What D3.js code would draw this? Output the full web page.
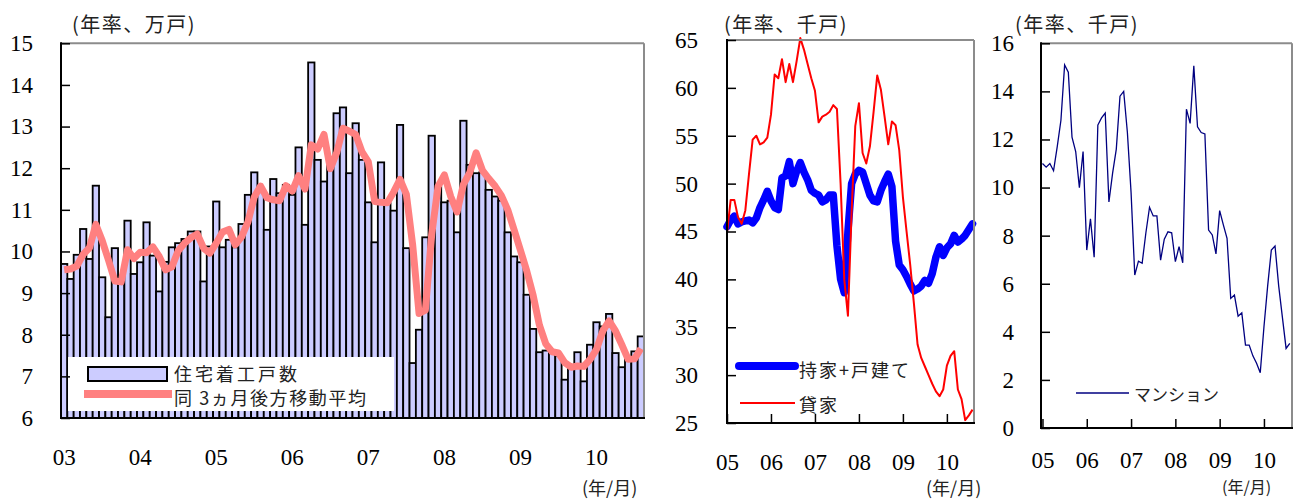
<!DOCTYPE html>
<html>
<head>
<meta charset="utf-8">
<script src="https://cdn.jsdelivr.net/npm/d3@7"></script>
<style>
  body { margin: 0; background: #fff; }
  svg { display: block; }
</style>
</head>
<body>
<svg id="chart" width="1295" height="499"></svg>
<script>
// ---- Housing starts, monthly 2003/01–2010/08 (annualised, 10k units) ----
const startsMonths = d3.utcMonth.range(new Date(Date.UTC(2003, 0, 1)), new Date(Date.UTC(2010, 8, 1)));
const housingStarts = [
  9.70, 9.34, 9.92, 10.54, 9.82, 11.58, 9.38, 8.42, 10.08, 9.30, 10.74, 9.46,
  9.74, 10.70, 9.90, 9.04, 9.75, 10.10, 10.20, 10.30, 10.48, 10.48, 9.28, 10.12,
  11.20, 10.10, 10.28, 10.10, 10.66, 11.36, 11.90, 11.45, 10.52, 11.74, 11.40, 11.60,
  11.36, 12.50, 10.64, 14.54, 12.20, 11.68, 12.10, 13.32, 13.46, 11.88, 13.08, 12.20,
  11.18, 10.22, 12.14, 11.16, 10.98, 13.04, 10.08, 7.32, 8.12, 10.34, 12.78, 11.56,
  11.18, 11.22, 10.46, 13.14, 12.08, 11.88, 11.90, 11.48, 11.32, 11.22, 10.46, 9.88,
  9.74, 8.96, 8.14, 7.58, 7.62, 7.56, 7.50, 6.92, 7.25, 7.58, 6.88, 7.76,
  8.30, 8.20, 8.50, 7.56, 7.22, 7.45, 7.60, 7.96
];
// trailing 3-month moving average
const startsMA3 = [
  9.56, 9.58, 9.65, 9.93, 10.09, 10.65, 10.26, 9.79, 9.29, 9.27, 10.04, 9.83,
  9.98, 9.97, 10.11, 9.88, 9.56, 9.63, 10.02, 10.20, 10.33, 10.42, 10.08, 9.96,
  10.20, 10.47, 10.53, 10.16, 10.35, 10.71, 11.31, 11.57, 11.29, 11.24, 11.22, 11.58,
  11.45, 11.82, 11.50, 12.56, 12.46, 12.81, 11.99, 12.37, 12.96, 12.89, 12.81, 12.39,
  12.15, 11.20, 11.18, 11.17, 11.43, 11.73, 11.37, 10.15, 8.51, 8.59, 10.41, 11.56,
  11.84, 11.32, 10.95, 11.61, 11.89, 12.37, 11.95, 11.75, 11.57, 11.34, 11.00, 10.52,
  10.03, 9.53, 8.95, 8.23, 7.78, 7.59, 7.56, 7.33, 7.22, 7.25, 7.24, 7.41,
  7.65, 8.09, 8.33, 8.09, 7.76, 7.41, 7.42, 7.67
];
const startsYearLabels = ["03", "04", "05", "06", "07", "08", "09", "10"];
const startsTicks = [6, 7, 8, 9, 10, 11, 12, 13, 14, 15];

// ---- Starts by type, monthly 2005/01–2010/08 (annualised, 1k units) ----
const typeMonths = d3.utcMonth.range(new Date(Date.UTC(2005, 0, 1)), new Date(Date.UTC(2010, 8, 1)));
const ownerDetached = [
  45.5, 46.2, 46.6, 45.8, 46.0, 46.1, 46.2, 45.9, 46.4, 47.5, 48.3, 49.2,
  48.2, 47.5, 47.3, 50.6, 50.8, 52.3, 50.0, 51.3, 52.2, 51.2, 50.4, 49.3,
  49.0, 48.8, 48.1, 48.3, 48.8, 48.8, 43.5, 40.0, 38.6, 45.0, 50.0, 51.0,
  51.4, 51.2, 50.0, 48.8, 48.2, 48.1, 49.3, 50.2, 51.0, 49.7, 44.0, 41.5,
  41.0, 40.3, 39.5, 38.8, 39.0, 39.3, 39.9, 39.6, 40.6, 42.3, 43.4, 42.5,
  43.3, 43.7, 44.6, 43.9, 44.2, 44.6, 45.2, 45.8
];
const rental = [
  44.8, 48.3, 48.3, 46.5, 45.8, 47.2, 51.0, 54.6, 55.0, 54.1, 54.3, 54.8,
  57.2, 61.4, 61.0, 63.0, 60.6, 62.5, 60.6, 62.8, 65.2, 64.0, 62.5, 61.0,
  59.7, 56.4, 57.0, 57.2, 57.5, 58.2, 57.8, 50.0, 40.0, 36.2, 47.0, 56.0,
  58.4, 53.2, 52.1, 53.9, 57.5, 61.3, 59.8, 57.0, 54.1, 56.5, 56.1, 53.5,
  48.6, 45.0, 41.5, 37.5, 33.2, 31.8, 30.9, 30.0, 29.1, 28.3, 27.8, 28.5,
  31.0, 32.0, 32.5, 28.5, 27.5, 25.3, 25.8, 26.4
];
const condo = [
  11.0, 10.85, 11.0, 10.7, 11.7, 12.8, 15.1, 14.8, 12.1, 11.5, 10.0, 11.5,
  7.4, 8.7, 7.1, 12.6, 12.9, 13.1, 9.4, 10.6, 11.6, 13.8, 14.0, 12.3,
  9.8, 6.36, 6.94, 6.85, 8.1, 9.18, 8.82, 8.82, 6.98, 7.85, 8.16, 8.12,
  6.92, 7.54, 6.87, 13.26, 12.67, 15.06, 12.53, 12.29, 12.23, 8.23, 8.03, 7.24,
  9.04, 8.45, 7.89, 5.39, 5.53, 4.65, 4.79, 3.45, 3.45, 3.0, 2.69, 2.30,
  4.2, 5.9, 7.4, 7.57, 5.9, 4.6, 3.31, 3.52
];
const typeYearLabels = ["05", "06", "07", "08", "09", "10"];
const ownerTicks = [25, 30, 35, 40, 45, 50, 55, 60, 65];
const condoTicks = [0, 2, 4, 6, 8, 10, 12, 14, 16];

const svg = d3.select("#chart");
const GRAY = "#8c8c8c";
const SERIF = '"Liberation Serif", "Times New Roman", "DejaVu Serif", serif';
const JP = '"Noto Sans CJK JP", "Noto Sans", sans-serif';

// Draws the panel frame: black left/bottom axis lines, grey top/right
function frame(g, x0, x1, y0, y1) {
  g.append("line").attr("x1", x0).attr("x2", x1).attr("y1", y0).attr("y2", y0)
    .attr("stroke", GRAY).attr("stroke-width", 2);
  g.append("line").attr("x1", x1).attr("x2", x1).attr("y1", y0).attr("y2", y1)
    .attr("stroke", GRAY).attr("stroke-width", 2);
  g.append("line").attr("x1", x0).attr("x2", x0).attr("y1", y0 - 1).attr("y2", y1 + 1)
    .attr("stroke", "#000").attr("stroke-width", 2);
  g.append("line").attr("x1", x0 - 1).attr("x2", x1 + 1).attr("y1", y1).attr("y2", y1)
    .attr("stroke", "#000").attr("stroke-width", 2);
}

function styleAxis(sel) {
  sel.attr("font-family", null).attr("font-size", null);
  sel.select(".domain").remove();
  sel.selectAll(".tick line").attr("stroke", "#000").attr("stroke-width", 1.5);
  sel.selectAll(".tick text")
    .style("font-family", SERIF).style("font-size", "23px").attr("fill", "#000");
}

function label(text, x, y, opts) {
  const o = Object.assign({ size: 18, spacing: 0, anchor: "start" }, opts || {});
  svg.append("text").attr("x", x).attr("y", y)
    .style("font-family", JP).style("font-size", o.size + "px")
    .style("letter-spacing", o.spacing + "px")
    .attr("fill", "#222")
    .attr("dominant-baseline", "central").attr("text-anchor", o.anchor).text(text);
}

// ================= Panel 1: housing starts =================
{
  const L = 61, R = 644, T = 43.3, B = 418;
  const x = d3.scaleBand().domain(d3.range(startsMonths.length)).range([L, R]).padding(0);
  const y = d3.scaleLinear().domain([6, 15]).range([B, T]);
  const g = svg.append("g");

  g.append("g").selectAll("rect").data(housingStarts).join("rect")
    .attr("x", (d, i) => x(i))
    .attr("y", d => y(d))
    .attr("width", x.bandwidth())
    .attr("height", d => y(6) - y(d))
    .attr("fill", "#ccccff")
    .attr("stroke", "#000")
    .attr("stroke-width", 1.8);

  const line = d3.line().x((d, i) => x(i) + x.bandwidth() / 2).y(d => y(d));
  g.append("path").datum(startsMA3).attr("d", line)
    .attr("fill", "none").attr("stroke", "#ff8080").attr("stroke-width", 7)
    .attr("stroke-linejoin", "round");

  // legend box
  g.append("rect").attr("x", 68).attr("y", 357).attr("width", 326).attr("height", 54).attr("fill", "#fff");
  g.append("rect").attr("x", 88).attr("y", 367).attr("width", 79).attr("height", 14)
    .attr("fill", "#ccccff").attr("stroke", "#000").attr("stroke-width", 2);
  g.append("line").attr("x1", 84).attr("x2", 172).attr("y1", 394).attr("y2", 394)
    .attr("stroke", "#ff8080").attr("stroke-width", 8);

  frame(g, L, R, T, B);

  g.append("g").attr("transform", `translate(${L},0)`)
    .call(d3.axisLeft(y).tickValues(startsTicks).tickSize(-9).tickSizeOuter(0).tickPadding(28))
    .call(styleAxis);

  g.append("g").attr("transform", `translate(0,${B})`)
    .call(d3.axisBottom(x).tickValues(d3.range(0, startsMonths.length, 12))
      .tickFormat(i => startsYearLabels[i / 12]).tickSize(0).tickPadding(31))
    .call(styleAxis);

  label("住宅着工戸数", 174, 373, { spacing: 3 });
  label("同 3ヵ月後方移動平均", 174, 397, { spacing: 1.6 });
  label("(年率、万戸)", 72, 23, { size: 20, spacing: 1.5 });
  label("(年/月)", 582, 487, { size: 18 });
}

// ================= Panel 2: owner-occupied / rental =================
{
  const L = 727, R = 974, T = 40, B = 423;
  const x = d3.scaleLinear().domain([0, 67.4]).range([L, R]);
  const y = d3.scaleLinear().domain([25, 65]).range([B, T]);
  const g = svg.append("g");

  const line = d3.line().x((d, i) => x(i)).y(d => y(d));
  g.append("path").datum(ownerDetached).attr("d", line)
    .attr("fill", "none").attr("stroke", "#0000ff").attr("stroke-width", 7.5)
    .attr("stroke-linejoin", "round").attr("stroke-linecap", "round");
  g.append("path").datum(rental).attr("d", line)
    .attr("fill", "none").attr("stroke", "#ff0000").attr("stroke-width", 2)
    .attr("stroke-linejoin", "round");

  frame(g, L, R, T, B);

  g.append("g").attr("transform", `translate(${L},0)`)
    .call(d3.axisLeft(y).tickValues(ownerTicks).tickSize(-9).tickSizeOuter(0).tickPadding(29))
    .call(styleAxis);

  g.append("g").attr("transform", `translate(0,${B})`)
    .call(d3.axisBottom(x).tickValues(d3.range(0, typeMonths.length, 12))
      .tickFormat(i => typeYearLabels[i / 12]).tickSize(-9).tickSizeOuter(0).tickPadding(31))
    .call(styleAxis);

  g.append("line").attr("x1", 739).attr("x2", 795).attr("y1", 366).attr("y2", 366)
    .attr("stroke", "#0000ff").attr("stroke-width", 8).attr("stroke-linecap", "round");
  g.append("line").attr("x1", 740).attr("x2", 795).attr("y1", 403).attr("y2", 403)
    .attr("stroke", "#ff0000").attr("stroke-width", 2);

  label("持家+戸建て", 799, 369, { spacing: 2 });
  label("貸家", 799, 404, { spacing: 2 });
  label("(年率、千戸)", 724, 23, { size: 20, spacing: 1.5 });
  label("(年/月)", 926, 487, { size: 18 });
}

// ================= Panel 3: condominiums =================
{
  const L = 1041, R = 1292, T = 43.3, B = 428;
  const x = d3.scaleLinear().domain([-0.4, 67.6]).range([L, R]);
  const y = d3.scaleLinear().domain([0, 16]).range([B, T]);
  const g = svg.append("g");

  const line = d3.line().x((d, i) => x(i)).y(d => y(d));
  g.append("path").datum(condo).attr("d", line)
    .attr("fill", "none").attr("stroke", "#000080").attr("stroke-width", 1.3);

  frame(g, L, R, T, B);

  g.append("g").attr("transform", `translate(${L},0)`)
    .call(d3.axisLeft(y).tickValues(condoTicks).tickSize(-9).tickSizeOuter(0).tickPadding(27))
    .call(styleAxis);

  g.append("g").attr("transform", `translate(0,${B})`)
    .call(d3.axisBottom(x).tickValues(d3.range(0, typeMonths.length, 12))
      .tickFormat(i => typeYearLabels[i / 12]).tickSize(-9).tickSizeOuter(0).tickPadding(24))
    .call(styleAxis);

  g.append("line").attr("x1", 1076).attr("x2", 1129).attr("y1", 393).attr("y2", 393)
    .attr("stroke", "#000080").attr("stroke-width", 1.3);

  label("マンション", 1134, 393, { size: 17 });
  label("(年率、千戸)", 1015, 23, { size: 20, spacing: 1.5 });
  label("(年/月)", 1222, 486, { size: 16 });
}
</script>
</body>
</html>
